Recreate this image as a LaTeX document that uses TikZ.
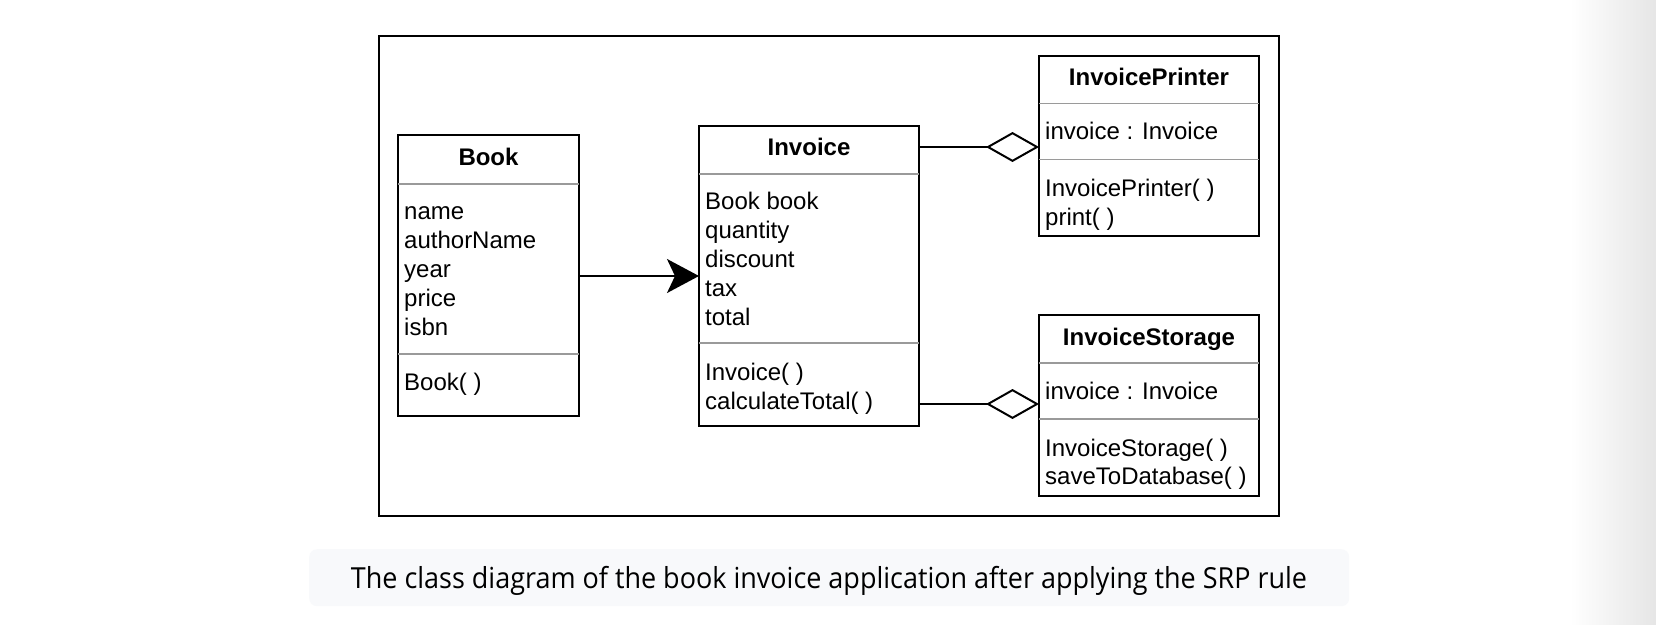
\documentclass[tikz,border=0pt]{standalone}
\usepackage{fontspec}
\setmainfont{Liberation Sans}
\newfontfamily\capfont[FakeStretch=0.93]{Open Sans}
\usetikzlibrary{arrows.meta}
\definecolor{capbg}{HTML}{F8F9FB}
\definecolor{sepgray}{HTML}{9A9A9A}
\begin{document}
\begin{tikzpicture}[x=1pt,y=-1pt,
  cls/.style={draw=black,line width=2pt,anchor=north west,inner sep=0pt,outer sep=0pt,fill=white},
  sepline/.style={draw=sepgray,line width=1.5pt},
  ttl/.style={font=\fontsize{24}{29}\selectfont\bfseries,inner sep=0pt,anchor=base},
  attr/.style={font=\fontsize{24}{29}\selectfont,inner sep=0pt,anchor=base west},
  conn/.style={draw=black,line width=2pt},
  assoc/.style={conn,-{Stealth[length=32pt,width=34pt,inset=8pt]}},
  agg/.style={conn,-{Diamond[open,fill=white,length=53pt,width=30pt]}}
]
\useasboundingbox (0,0) rectangle (1656,624);
\fill[white] (0,0) rectangle (1656,624);
\shade[left color=white,right color=black!10] (1570,0) rectangle (1656,624);

% outer frame
\node[cls,minimum width=900pt,minimum height=480pt] (frame) at (379,36) {};

% Book
\node[cls,minimum width=181pt,minimum height=281pt] (book) at (398,135) {};
\node[ttl] (bookT) at (488.5,165.5) {Book};
\draw[sepline] (book.west |- 0,184) -- (book.east |- 0,184);
\draw[sepline] (book.west |- 0,354) -- (book.east |- 0,354);
\foreach \t [count=\i] in {name,authorName,year,price,isbn}
  \node[attr] (bookA\i) at (404,{219.5+29*(\i-1)}) {\t};
\node[attr] (bookM1) at (404,390) {Book( )};

% Invoice
\node[cls,minimum width=220pt,minimum height=300pt] (inv) at (699,126) {};
\node[ttl] (invT) at (809,155.5) {Invoice};
\draw[sepline] (inv.west |- 0,174) -- (inv.east |- 0,174);
\draw[sepline] (inv.west |- 0,343) -- (inv.east |- 0,343);
\foreach \t [count=\i] in {Book book,quantity,discount,tax,total}
  \node[attr] (invA\i) at (705,{209+29*(\i-1)}) {\t};
\node[attr] (invM1) at (705,380) {Invoice( )};
\node[attr] (invM2) at (705,409) {calculateTotal( )};

% InvoicePrinter
\node[cls,minimum width=220pt,minimum height=180pt] (prn) at (1039,56) {};
\node[ttl] (prnT) at (1149,85.5) {InvoicePrinter};
\draw[sepline] (prn.west |- 0,103.5) -- (prn.east |- 0,103.5);
\draw[sepline] (prn.west |- 0,159.5) -- (prn.east |- 0,159.5);
\node[attr] (prnA1) at (1045,139.5) {invoice : Invoice};
\node[attr] (prnM1) at (1045,196) {InvoicePrinter( )};
\node[attr] (prnM2) at (1045,225) {print( )};

% InvoiceStorage
\node[cls,minimum width=220pt,minimum height=181pt] (sto) at (1039,315) {};
\node[ttl] (stoT) at (1149,345.5) {InvoiceStorage};
\draw[sepline] (sto.west |- 0,363) -- (sto.east |- 0,363);
\draw[sepline] (sto.west |- 0,419) -- (sto.east |- 0,419);
\node[attr] (stoA1) at (1045,399.5) {invoice : Invoice};
\node[attr] (stoM1) at (1045,456) {InvoiceStorage( )};
\node[attr] (stoM2) at (1045,484) {saveToDatabase( )};

% connectors
\coordinate (yA) at (0,276);
\coordinate (yP) at (0,147);
\coordinate (yS) at (0,404);
\draw[assoc] (book.east |- yA) -- (inv.west |- yA);
\draw[agg] (inv.east |- yP) -- (prn.west |- yP);
\draw[agg] (inv.east |- yS) -- (sto.west |- yS);

% caption
\node[fill=capbg,rounded corners=8pt,inner sep=0pt,minimum width=1040pt,minimum height=57pt,anchor=north west] (capbox) at (309,549) {};
\node[font=\capfont\fontsize{29}{34}\selectfont,inner sep=0pt,anchor=base] (cap) at (829,588) {The class diagram of the book invoice application after applying the SRP rule};
\end{tikzpicture}
\end{document}
